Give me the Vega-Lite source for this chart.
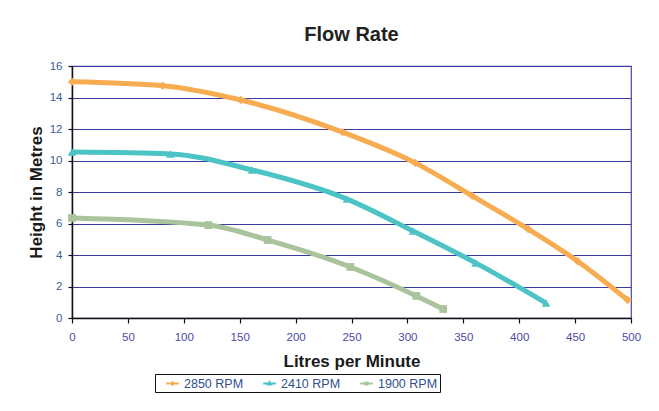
{
  "$schema": "https://vega.github.io/schema/vega-lite/v6.json",
  "width": 559,
  "height": 252,
  "autosize": "none",
  "padding": {"left": 72, "top": 66, "right": 28, "bottom": 93},
  "background": "white",
  "title": {"text": "Flow Rate", "fontSize": 20, "font": "Liberation Sans", "fontWeight": "bold", "color": "#222222", "offset": 15, "anchor": "middle"},
  "config": {
    "view": {"stroke": "#4646A6", "strokeWidth": 1.2},
    "font": "Liberation Sans"
  },
  "data": {"values": [
    {"series": "2850 RPM", "lpm": 0, "h": 15.0},
    {"series": "2850 RPM", "lpm": 81, "h": 14.75},
    {"series": "2850 RPM", "lpm": 151, "h": 13.84},
    {"series": "2850 RPM", "lpm": 242, "h": 11.8},
    {"series": "2850 RPM", "lpm": 307, "h": 9.85},
    {"series": "2850 RPM", "lpm": 358, "h": 7.75},
    {"series": "2850 RPM", "lpm": 408, "h": 5.65},
    {"series": "2850 RPM", "lpm": 452, "h": 3.62},
    {"series": "2850 RPM", "lpm": 497, "h": 1.14},
    {"series": "2410 RPM", "lpm": 0, "h": 10.54},
    {"series": "2410 RPM", "lpm": 88, "h": 10.42},
    {"series": "2410 RPM", "lpm": 161, "h": 9.4},
    {"series": "2410 RPM", "lpm": 246, "h": 7.55},
    {"series": "2410 RPM", "lpm": 305, "h": 5.52},
    {"series": "2410 RPM", "lpm": 361, "h": 3.5},
    {"series": "2410 RPM", "lpm": 424, "h": 0.95},
    {"series": "1900 RPM", "lpm": 0, "h": 6.35},
    {"series": "1900 RPM", "lpm": 122, "h": 5.9},
    {"series": "1900 RPM", "lpm": 175, "h": 4.95},
    {"series": "1900 RPM", "lpm": 249, "h": 3.24},
    {"series": "1900 RPM", "lpm": 308, "h": 1.4},
    {"series": "1900 RPM", "lpm": 332, "h": 0.57}
  ]},
  "encoding": {
    "x": {"field": "lpm", "type": "quantitative", "scale": {"domain": [0, 500], "nice": false},
      "axis": {"title": "Litres per Minute", "values": [0,50,100,150,200,250,300,350,400,450,500], "grid": false, "labelFlush": false,
        "domainColor": "#111111", "domainWidth": 1.5, "tickColor": "#111111", "tickSize": 5, "tickWidth": 1.2,
        "labelColor": "#4A4AAA", "labelFontSize": 11.5, "labelPadding": 8, "labelFont": "Liberation Sans",
        "titleFontSize": 17, "titleFontWeight": "bold", "titleColor": "#1a1a1a", "titlePadding": 11, "titleFont": "Liberation Sans"}},
    "y": {"field": "h", "type": "quantitative", "scale": {"domain": [0, 16], "nice": false},
      "axis": {"title": "Height in Metres", "values": [0,2,4,6,8,10,12,14,16], "grid": true, "labelFlush": false,
        "gridColor": "#3A3AA0", "gridWidth": 1.2, "gridOpacity": 1,
        "domainColor": "#111111", "domainWidth": 1.5, "tickColor": "#111111", "tickSize": 4, "tickWidth": 1.2,
        "labelColor": "#3D5C9C", "labelFontSize": 11.5, "labelPadding": 6, "labelFont": "Liberation Sans",
        "titleFontSize": 17, "titleFontWeight": "bold", "titleColor": "#1a1a1a", "titlePadding": 4, "titleFont": "Liberation Sans"}},
    "color": {"field": "series", "type": "nominal",
      "scale": {"domain": ["2850 RPM", "2410 RPM", "1900 RPM"], "range": ["#F8AC52", "#4CC3C5", "#A9C39C"]}}
  },
  "layer": [
    {
      "mark": {"type": "line", "interpolate": "monotone", "strokeWidth": 5},
      "encoding": {
        "color": {"field": "series", "type": "nominal",
          "scale": {"domain": ["2850 RPM", "2410 RPM", "1900 RPM"], "range": ["#F8AC52", "#4CC3C5", "#A9C39C"]},
          "legend": {"title": null, "orient": "none", "legendX": 83, "legendY": 308, "direction": "horizontal", "columns": 3,
            "strokeColor": "#111111", "padding": 2, "labelFontSize": 12.5, "labelColor": "#2E4E8E", "labelFont": "Liberation Sans",
            "symbolSize": 160, "symbolStrokeWidth": 2, "columnPadding": 10, "labelOffset": 4, "symbolOffset": 8,
            "encode": {"symbols": {"update": {
              "shape": {"signal": "datum.value == '2850 RPM' ? 'M-1,0H1M0,-0.2L0.2,0L0,0.2L-0.2,0Z' : datum.value == '2410 RPM' ? 'M-1,0H1M0,-0.22L0.22,0.16L-0.22,0.16Z' : 'M-1,0H1M-0.16,-0.16H0.16V0.16H-0.16Z'"},
              "fill": {"scale": "color", "field": "value"},
              "stroke": {"scale": "color", "field": "value"},
              "strokeWidth": {"value": 2}
            }}}}
        }
      }
    },
    {
      "transform": [{"filter": "datum.series == '2850 RPM'"}],
      "mark": {"type": "point", "filled": true, "size": 70, "opacity": 1, "shape": "diamond"}
    },
    {
      "transform": [{"filter": "datum.series == '2410 RPM'"}],
      "mark": {"type": "point", "filled": true, "size": 75, "opacity": 1, "shape": "triangle-up"}
    },
    {
      "transform": [{"filter": "datum.series == '1900 RPM'"}],
      "mark": {"type": "point", "filled": true, "size": 60, "opacity": 1, "shape": "square"}
    }
  ]
}
